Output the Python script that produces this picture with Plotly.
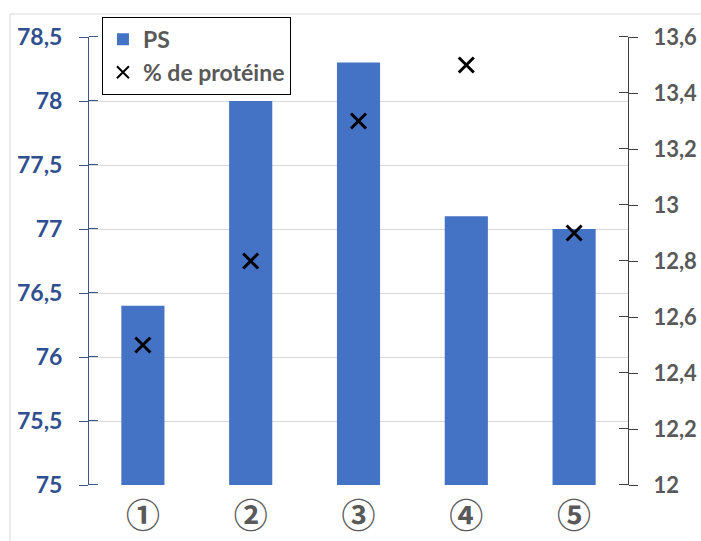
import plotly.graph_objects as go

# Sample labels and measurements
categories = ["①", "②", "③", "④", "⑤"]
ps_values = [76.4, 78.0, 78.3, 77.1, 77.0]
protein_values = [12.5, 12.8, 13.3, 13.5, 12.9]

BLUE = "#4472C4"
LEFT_TXT = "#2F4F8F"
GREY_TXT = "#595959"
GRID = "#D9D9D9"
LEFT_LINE = "#3B5587"
RIGHT_LINE = "#404040"
FONT = "Lato"

fig = go.Figure()

fig.add_trace(go.Bar(
    x=categories, y=ps_values, name="PS",
    marker=dict(color=BLUE, line=dict(width=0)),
    width=0.4, yaxis="y",
))

fig.add_trace(go.Scatter(
    x=categories, y=protein_values, name="% de protéine",
    mode="markers", yaxis="y2",
    marker=dict(symbol="x-thin", size=15, color="black",
                line=dict(width=3, color="black")),
))

fig.update_layout(
    width=701, height=541,
    margin=dict(l=89, r=73, t=37, b=56),
    paper_bgcolor="white", plot_bgcolor="white",
    separators=", ",
    showlegend=True,
    font=dict(family=FONT, color=GREY_TXT),
    xaxis=dict(
        type="category", automargin=False,
        showgrid=False, showline=False, ticks="",
        tickfont=dict(family="Noto Sans CJK JP", size=34, color=GREY_TXT,
                      weight="bold"),
        ticklabelstandoff=8,
        zeroline=False,
    ),
    yaxis=dict(
        range=[75, 78.5], dtick=0.5, tick0=75, automargin=False,
        showgrid=True, gridcolor=GRID, gridwidth=1,
        showline=True, linecolor=LEFT_LINE, linewidth=1,
        ticks="outside", ticklen=9, tickcolor=LEFT_LINE,
        # inner half of the crossing tick marks
        minor=dict(ticks="inside", ticklen=9, tickcolor=LEFT_LINE,
                   tick0=75.0001, dtick=0.5, showgrid=False),
        tickfont=dict(family=FONT, size=23, color=LEFT_TXT, weight="bold"),
        ticklabelstandoff=12,
        zeroline=False,
    ),
    yaxis2=dict(
        range=[12, 13.6], dtick=0.2, tick0=12, automargin=False,
        overlaying="y", side="right", anchor="x",
        showgrid=False,
        showline=True, linecolor=RIGHT_LINE, linewidth=1,
        ticks="outside", ticklen=9, tickcolor=RIGHT_LINE,
        minor=dict(ticks="inside", ticklen=9, tickcolor=RIGHT_LINE,
                   tick0=12.0001, dtick=0.2, showgrid=False),
        tickfont=dict(family=FONT, size=22, color=GREY_TXT, weight="bold"),
        ticklabelstandoff=11,
        zeroline=False,
    ),
    legend=dict(
        x=0.024, y=1.045, xanchor="left", yanchor="top",
        bgcolor="white", bordercolor="black", borderwidth=1,
        font=dict(family=FONT, size=23, color=GREY_TXT, weight="bold"),
        itemsizing="constant",
        tracegroupgap=0,
    ),
    shapes=[dict(
        type="rect", xref="paper", yref="paper",
        x0=-0.1466, x1=1.5, y0=-0.5, y1=1.0513,
        line=dict(color=GRID, width=1), fillcolor="rgba(0,0,0,0)",
        layer="below",
    )],
)

fig.write_html("out.html")
